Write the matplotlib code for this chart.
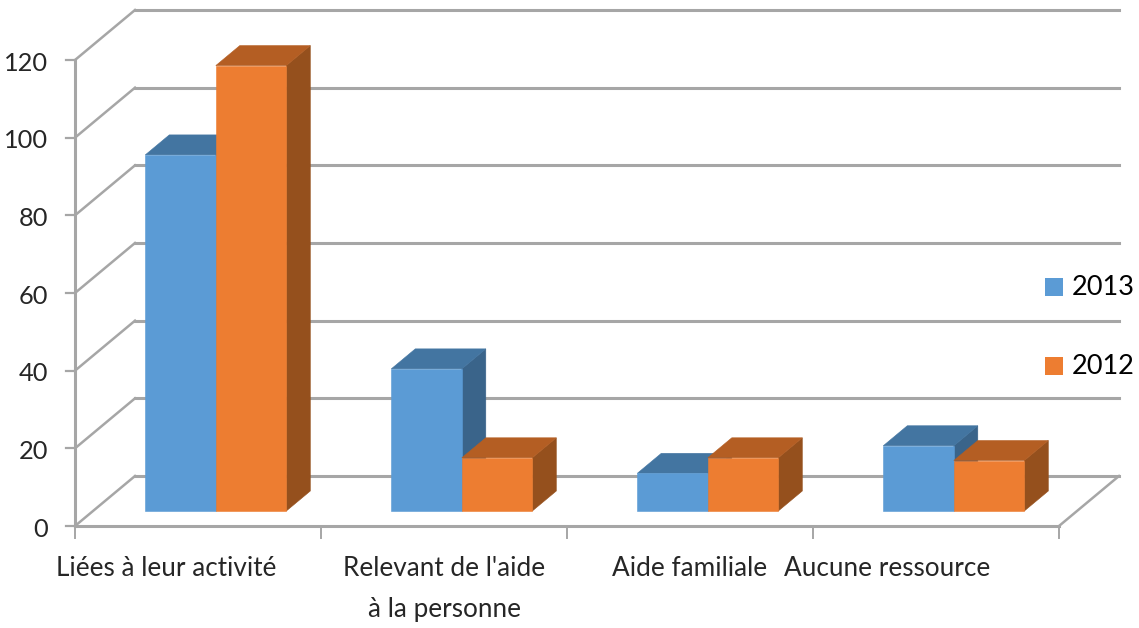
import numpy as np
import matplotlib
matplotlib.use("Agg")
import matplotlib.pyplot as plt
from matplotlib.patches import Polygon

# Chart data
categories = ["Liées à leur activité", "Relevant de l'aide\nà la personne", "Aide familiale", "Aucune ressource"]
values_2013 = [91.7, 36.6, 9.7, 16.8]
values_2012 = [114.7, 13.7, 13.7, 13]
y_ticks = [0, 20, 40, 60, 80, 100, 120]

# Colours: front, top, side
blue = ("#5b9bd5", "#4375a1", "#3a648a")
orange = ("#ed7d31", "#b45e23", "#95501d")
grid_col = "#a6a6a6"

plt.rcParams["font.family"] = ["Lato", "DejaVu Sans"]

W, H = 1139, 628
fig = plt.figure(figsize=(W / 100, H / 100), dpi=100)
# plot box in pixels: x 75..1059, y 60..526
ax = fig.add_axes([75 / W, 1 - 526 / H, 984 / W, 466 / H])
ax.set_xlim(0, 4)
ax.set_ylim(0, 120)
ax.axis("off")

# depth of the fake 3D, in data units
px_x = 4 / 984
px_y = 120 / 466
wall_dx, wall_dy = 60 * px_x, 50 * px_y      # front axis -> back wall
base_dx, base_dy = 17 * px_x, 15 * px_y      # front axis -> front of the bars
bar_dx, bar_dy = 24 * px_x, 20 * px_y        # depth of the bars
bar_w = 70.5 * px_x
bar_start = 53.3 * px_x


def line(xs, ys, lw=2.2, col=grid_col, z=1):
    ax.plot(xs, ys, color=col, lw=lw, clip_on=False, zorder=z, solid_capstyle="projecting")


# Walls and floor
for v in y_ticks:
    line([0, wall_dx], [v, v + wall_dy], lw=1.8)
    line([wall_dx, 4 + wall_dx], [v + wall_dy, v + wall_dy])
    line([-9 * px_x, 0], [v, v], lw=1.6)
line([0, 0], [0, 120])
line([0, 4], [0, 0])
line([4, 4 + wall_dx], [0, wall_dy], lw=1.8)
for i in range(5):
    line([i, i], [0, -12 * px_y], lw=1.4)


def bar3d(x, v, cols, z):
    x0, x1 = x + base_dx, x + base_dx + bar_w
    y0, y1 = base_dy, base_dy + v
    front = [(x0, y0), (x1, y0), (x1, y1), (x0, y1)]
    top = [(x0, y1), (x1, y1), (x1 + bar_dx, y1 + bar_dy), (x0 + bar_dx, y1 + bar_dy)]
    side = [(x1, y0), (x1 + bar_dx, y0 + bar_dy), (x1 + bar_dx, y1 + bar_dy), (x1, y1)]
    for pts, c in zip((side, top, front), (cols[2], cols[1], cols[0])):
        ax.add_patch(Polygon(pts, closed=True, fc=c, ec=c, lw=0.4, clip_on=False, zorder=z))


for i in range(len(categories)):
    x = i + bar_start
    bar3d(x, values_2013[i], blue, 3)
    bar3d(x + bar_w, values_2012[i], orange, 4)

# Tick labels
for v in y_ticks:
    ax.text(-27 * px_x, v - 0.8, str(v), ha="right", va="center", fontsize=18.3, color="#262626", clip_on=False)

label_cx = [166, 444, 690, 887]
for name, cx in zip(categories, label_cx):
    offset = -63.5 if "\n" in name else -42
    ax.text((cx - 75) * px_x, offset * px_y, name, ha="center", va="center",
            fontsize=18.8, color="#262626", linespacing=1.8, clip_on=False)

# Legend
leg_y = [(287, "2013", blue[0]), (366, "2012", orange[0])]
for py, lab, c in leg_y:
    fig.patches.append(plt.Rectangle((1045 / W, 1 - (py + 9) / H), 18 / W, 18 / H, fc=c, ec="none",
                                     transform=fig.transFigure))
    fig.text(1072 / W, 1 - py / H, lab, ha="left", va="center", fontsize=19.5, color="black")

fig.savefig("out.png", dpi=100)
